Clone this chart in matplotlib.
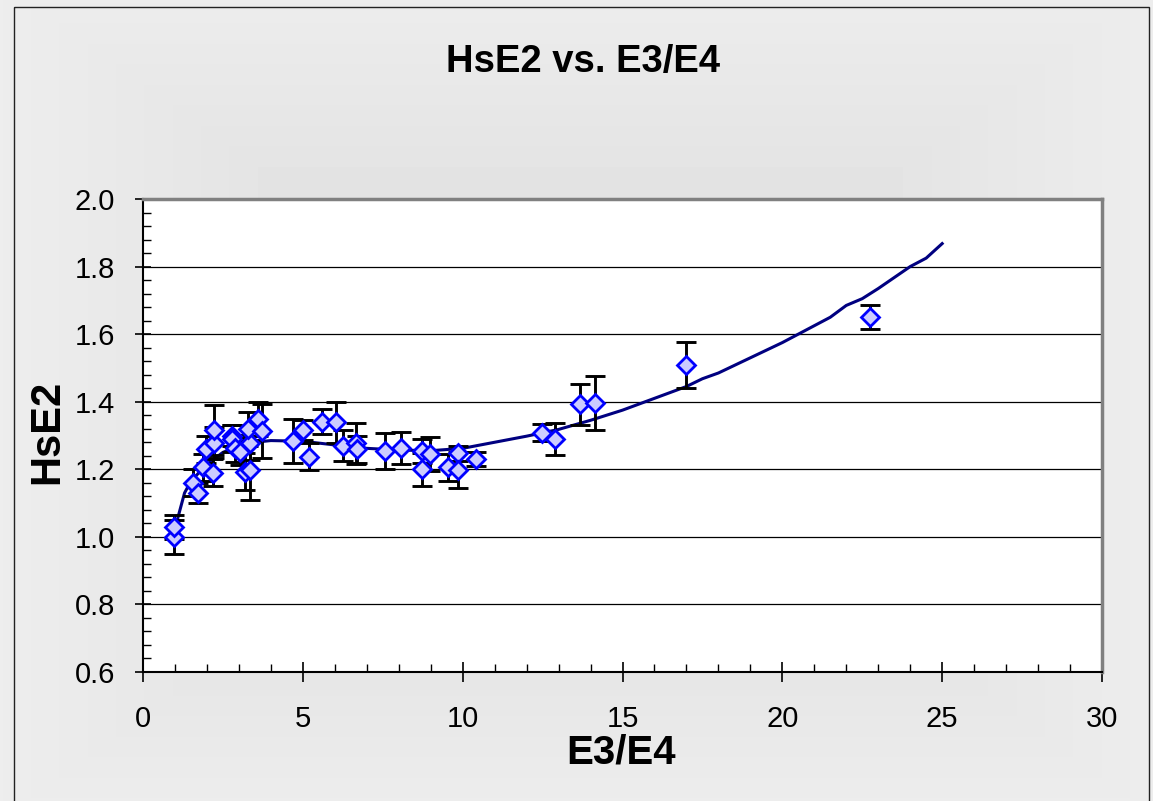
import numpy as np
import matplotlib
matplotlib.use("Agg")
import matplotlib.pyplot as plt
from matplotlib.ticker import MultipleLocator, FormatStrFormatter
from matplotlib.patches import Rectangle

plt.rcParams['font.family'] = ['Liberation Sans', 'DejaVu Sans']

# ---- data ----
x_obs = [0.97, 0.97, 1.55, 1.73, 1.87, 2.20, 1.97, 2.22, 2.23,
         2.77, 2.79, 2.88, 3.03, 3.19, 3.36, 3.35, 3.29, 3.60, 3.73,
         4.70, 5.01, 5.20, 5.59, 6.03, 6.25, 6.66, 6.68, 7.57, 8.06,
         8.72, 8.98, 8.72, 9.53, 9.86, 9.86, 10.43,
         12.49, 12.89, 13.67, 14.14, 17.00, 22.74]
y_obs = [1.00, 1.03, 1.16, 1.13, 1.206, 1.19, 1.26, 1.279, 1.316,
         1.30, 1.29, 1.262, 1.252, 1.193, 1.198, 1.277, 1.32, 1.348, 1.314,
         1.285, 1.316, 1.237, 1.341, 1.339, 1.27, 1.277, 1.26, 1.255, 1.262,
         1.255, 1.245, 1.20, 1.206, 1.247, 1.198, 1.23,
         1.308, 1.29, 1.392, 1.395, 1.509, 1.651]
y_err = [0.05, 0.035, 0.04, 0.03, 0.04, 0.04, 0.04, 0.045, 0.075,
         0.03, 0.04, 0.04, 0.04, 0.055, 0.09, 0.05, 0.05, 0.05, 0.08,
         0.065, 0.03, 0.04, 0.037, 0.06, 0.045, 0.06, 0.04, 0.053, 0.047,
         0.035, 0.05, 0.048, 0.04, 0.022, 0.054, 0.02,
         0.025, 0.047, 0.06, 0.08, 0.067, 0.035]

x_fit = [1.0, 1.1, 1.3, 1.5, 1.75, 2.0, 2.5, 3.0, 3.5, 4.0, 5.0, 6.0, 7.0, 8.0,
         9.0, 10.0, 11.0, 12.0, 13.0, 14.0, 15.0, 16.0, 17.0, 17.5, 18.0, 19.0,
         20.0, 21.0, 21.5, 22.0, 22.5, 23.0, 24.0, 24.5, 25.0]
y_fit = [1.02, 1.06, 1.13, 1.165, 1.19, 1.215, 1.25, 1.27, 1.28, 1.285, 1.283,
         1.272, 1.262, 1.257, 1.255, 1.262, 1.28, 1.298, 1.318, 1.345, 1.375,
         1.41, 1.445, 1.468, 1.485, 1.53, 1.575, 1.625, 1.65, 1.685, 1.705,
         1.735, 1.80, 1.825, 1.868]

W, H = 1153, 801
fig = plt.figure(figsize=(W / 100, H / 100), dpi=100)

# background gradient (lighter toward the edges)
bg = fig.add_axes([0, 0, 1, 1], zorder=-10)
yy, xx = np.mgrid[0:H, 0:W]
cx, cy = 580, 400
d = np.maximum(np.abs(xx - cx) / 580.0, np.abs(yy - cy) / 420.0)
d = np.clip(d, 0, 1)
val = 0.85 + 0.08 * d
bg.imshow(val, cmap='gray', vmin=0, vmax=1, extent=[0, W, H, 0], aspect='auto')
bg.add_patch(Rectangle((13.5, 6.5), 1135, 820, fill=False, edgecolor='#222222', lw=1))
bg.set_xlim(0, W)
bg.set_ylim(H, 0)
bg.axis('off')

ax = fig.add_axes([143 / W, 1 - 672 / H, (1102 - 143) / W, (672 - 199) / H])
ax.set_facecolor('white')

for yv in [0.8, 1.0, 1.2, 1.4, 1.6, 1.8]:
    ax.axhline(yv, color='black', lw=0.9, zorder=1)

ax.plot(x_fit, y_fit, color='#000080', lw=2.2, zorder=2)
ax.errorbar(x_obs, y_obs, yerr=y_err, fmt='none', ecolor='black', elinewidth=2.1,
            capsize=7, capthick=2.1, zorder=3)
ax.plot(x_obs, y_obs, linestyle='none', marker='D', markersize=8.8,
        markerfacecolor='#ccccff', markeredgecolor='#0000ff', markeredgewidth=2, zorder=4)

ax.set_xlim(0, 30)
ax.set_ylim(0.6, 2.0)
ax.xaxis.set_major_locator(MultipleLocator(5))
ax.xaxis.set_minor_locator(MultipleLocator(1))
ax.yaxis.set_major_locator(MultipleLocator(0.2))
ax.yaxis.set_minor_locator(MultipleLocator(0.04))
ax.yaxis.set_major_formatter(FormatStrFormatter('%.1f'))

ax.tick_params(axis='x', which='major', direction='inout', length=14, width=1.2,
               labelsize=21, pad=17)
ax.tick_params(axis='x', which='minor', direction='in', length=6, width=1)
ax.tick_params(axis='y', which='major', direction='inout', length=12, width=1.2,
               labelsize=21, pad=14)
ax.tick_params(axis='y', which='minor', direction='in', length=6, width=1)

ax.spines['left'].set_color('black')
ax.spines['bottom'].set_color('black')
ax.spines['left'].set_linewidth(1.5)
ax.spines['bottom'].set_linewidth(1.5)
ax.spines['top'].set_color('#808080')
ax.spines['right'].set_color('#808080')
ax.spines['top'].set_linewidth(2.5)
ax.spines['right'].set_linewidth(2.5)

fig.text(583 / W, 1 - 62 / H, 'HsE2 vs. E3/E4', ha='center', va='center',
         fontsize=27.5, fontweight='bold')
fig.text(621 / W, 1 - 752 / H, 'E3/E4', ha='center', va='center',
         fontsize=29, fontweight='bold')
fig.text(47 / W, 1 - 432 / H, 'HsE2', ha='center', va='center', rotation=90,
         fontsize=30, fontweight='bold')

fig.savefig('out.png', dpi=100)
